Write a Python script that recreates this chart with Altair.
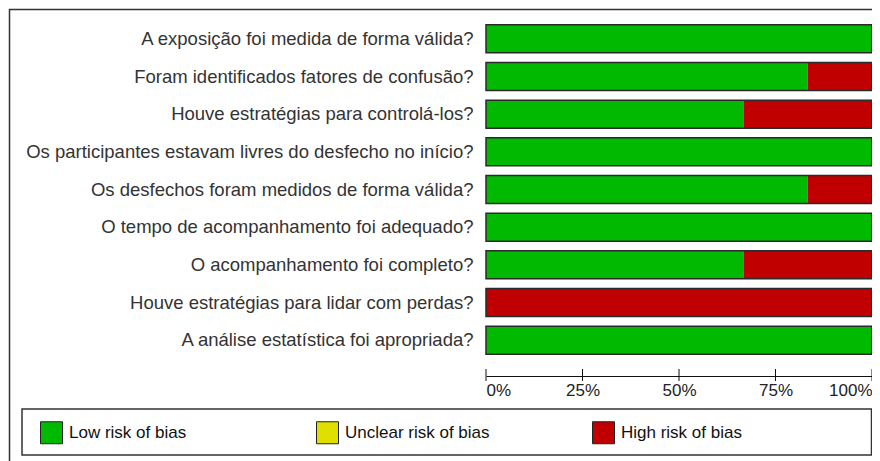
import altair as alt
import pandas as pd

questions = [
    "A exposição foi medida de forma válida?",
    "Foram identificados fatores de confusão?",
    "Houve estratégias para controlá-los?",
    "Os participantes estavam livres do desfecho no início?",
    "Os desfechos foram medidos de forma válida?",
    "O tempo de acompanhamento foi adequado?",
    "O acompanhamento foi completo?",
    "Houve estratégias para lidar com perdas?",
    "A análise estatística foi apropriada?",
]
low = [100, 83.3, 66.7, 100, 83.3, 100, 66.7, 0, 100]
unclear = [0, 0, 0, 0, 0, 0, 0, 0, 0]
high = [0, 16.7, 33.3, 0, 16.7, 0, 33.3, 100, 0]
categories = ["Low risk of bias", "Unclear risk of bias", "High risk of bias"]
colors = ["#00B900", "#E0E000", "#C00000"]
tick_values = [0, 25, 50, 75, 100]

rows = []
for q, l, u, h in zip(questions, low, unclear, high):
    for i, (c, v) in enumerate(zip(categories, [l, u, h])):
        rows.append({"question": q, "category": c, "value": v, "order": i})
df = pd.DataFrame(rows)
totals = pd.DataFrame({
    "question": questions,
    "start": [0] * len(questions),
    "total": [l + u + h for l, u, h in zip(low, unclear, high)],
})
ticks_df = pd.DataFrame({"tick": tick_values})

FONT = "Liberation Sans"
W, H = 386, 339
xscale = alt.Scale(domain=[0, 100], nice=False, zero=True)
xaxis = alt.Axis(values=tick_values, labelExpr="datum.value + '%'",
                 title=None, ticks=False, grid=False, domainColor="#111111",
                 domainWidth=1, offset=17, labelFont=FONT, labelFontSize=17,
                 labelColor="#222222", labelPadding=6, labelFlush=True)
yscale = alt.Scale(paddingInner=0.255, paddingOuter=0.1275)
yaxis = alt.Axis(title=None, ticks=False, domain=False, labelFont=FONT,
                 labelFontSize=18.5, labelColor="#333333", labelPadding=13,
                 labelLimit=600)
yenc = alt.Y("question:N", sort=questions, scale=yscale, axis=yaxis)

bars = alt.Chart(df).mark_bar(strokeWidth=0).encode(
    x=alt.X("value:Q", stack="zero", scale=xscale, axis=xaxis),
    y=yenc,
    color=alt.Color("category:N",
                    scale=alt.Scale(domain=categories, range=colors),
                    legend=alt.Legend(title=None, orient="none", legendX=-446, legendY=401,
                                      direction="horizontal", symbolType="square",
                                      symbolSize=484, labelFont=FONT, labelFontSize=17,
                                      labelColor="#111111", gridAlign="all",
                                      columnPadding=100, labelOffset=6,
                                      symbolStrokeColor="#222222", symbolStrokeWidth=1,
                                      padding=0)),
    order=alt.Order("order:Q"),
)

outlines = alt.Chart(totals).mark_bar(fill="transparent", stroke="#2a2a2a", strokeWidth=1.5).encode(
    x=alt.X("start:Q", scale=xscale, axis=xaxis),
    x2="total:Q",
    y=yenc,
)

tick_rules = alt.Chart(ticks_df).mark_rule(color="#111111", strokeWidth=1).encode(
    x=alt.X("tick:Q", scale=xscale, axis=xaxis),
    y=alt.value(H + 10),
    y2=alt.value(H + 22),
)

one = alt.Data(values=[{"a": 1}])
frame = alt.Chart(one).mark_rect(fill="transparent", stroke="#333333", strokeWidth=1.5).encode(
    x=alt.value(-476.5), x2=alt.value(W + 30), y=alt.value(-10.5), y2=alt.value(H + 140)
)
legend_box = alt.Chart(one).mark_rect(fill="transparent", stroke="#333333", strokeWidth=1.5).encode(
    x=alt.value(-464), x2=alt.value(W - 0.5), y=alt.value(389), y2=alt.value(435)
)

chart = alt.layer(frame, legend_box, bars, outlines, tick_rules).properties(
    width=W, height=H,
    padding={"left": 478, "top": 12, "right": 0, "bottom": 102},
    autosize=alt.AutoSizeParams(type="none"),
    background="white",
).configure_view(strokeWidth=0)

chart.save("out.html", embed_options={"renderer": "svg", "actions": False})
